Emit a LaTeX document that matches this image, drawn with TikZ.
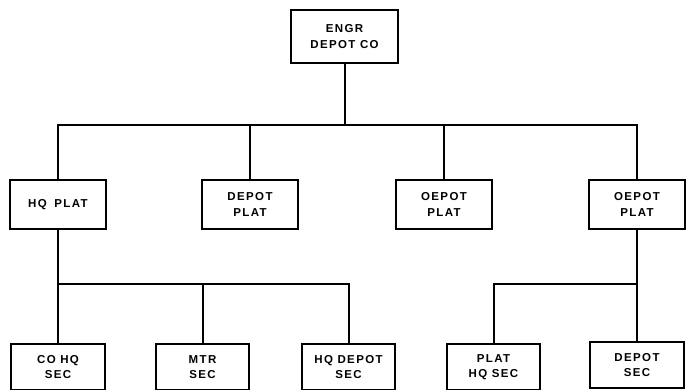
\documentclass[tikz,border=0pt]{standalone}
\usepackage{fontspec}
\newfontfamily\orgfont[LetterSpace=12]{Liberation Sans}

\begin{document}
\begin{tikzpicture}[x=1pt, y=-1pt, font=\orgfont\bfseries\fontsize{11.5}{15.5}\selectfont,
  unit/.style={draw, line width=1.8pt, fill=white, minimum width=96pt, minimum height=49pt, inner sep=2pt, align=center},
  sec/.style={unit, minimum width=93pt, minimum height=46pt},
  link/.style={line width=2pt}]
\useasboundingbox (0,0) rectangle (686,389);
% company
\node[unit, minimum width=107pt, minimum height=53pt] (co) at (344.5,36.5) {ENGR\\ DEPOT CO};
% platoons
\node[unit] (hq) at (58,204.5) {HQ\hspace{3pt} PLAT};
\node[unit] (dp1) at (250,204.5) {DEPOT\\ PLAT};
\node[unit] (dp2) at (444,204.5) {OEPOT\\ PLAT};
\node[unit] (dp3) at (637,204.5) {OEPOT\\ PLAT};
% sections
\node[sec, minimum width=94pt] (cohq) at (58,367) {CO HQ\\ SEC};
\node[sec] (mtr) at (202.5,367) {MTR\\ SEC};
\node[sec] (hqd) at (348.5,367) {HQ DEPOT\\ SEC};
\node[sec] (phq) at (493.5,367) {PLAT\\ HQ SEC};
\node[sec, minimum width=94pt] (dsec) at (637,365) {DEPOT\\ SEC};
\coordinate (bust) at (344.5,125);
\coordinate (busl) at (58,284);
\coordinate (busr) at (637,284);
\draw[link] (co) -- (bust);
\draw[link] (hq.north) |- (bust) -| (dp3.north);
\draw[link] (dp1.north) -- (dp1.north |- bust);
\draw[link] (dp2.north) -- (dp2.north |- bust);
\draw[link] (hq.south) -- (cohq.north);
\draw[link] (busl) -| (hqd.north);
\draw[link] (mtr.north) -- (mtr.north |- busl);
\draw[link] (dp3.south) -- (dsec.north);
\draw[link] (busr) -| (phq.north);
\end{tikzpicture}
\end{document}
